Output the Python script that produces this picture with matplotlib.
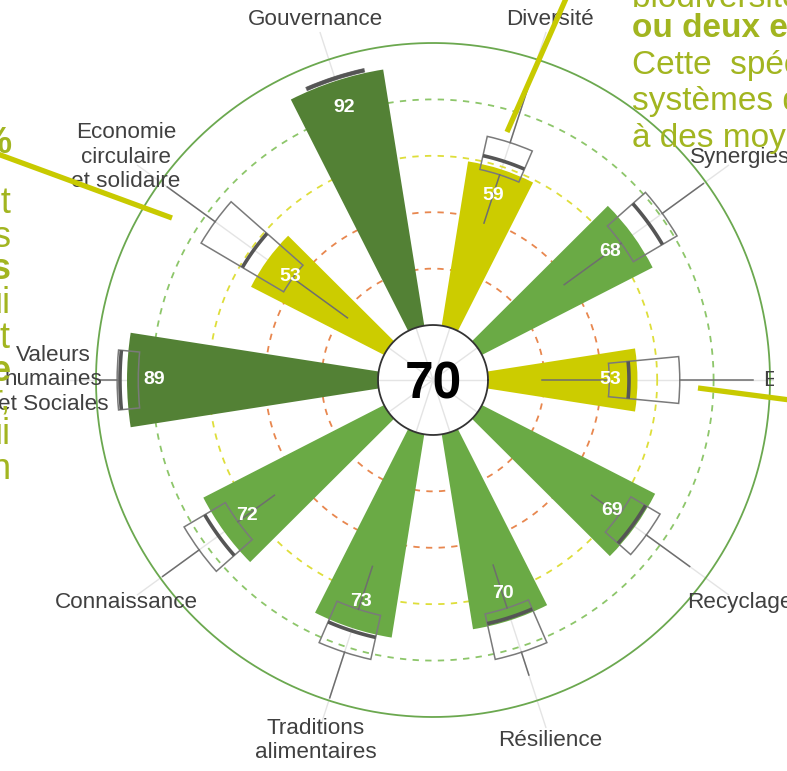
import numpy as np
import matplotlib
matplotlib.use("Agg")
import matplotlib.pyplot as plt
from matplotlib import font_manager
from matplotlib.lines import Line2D
from matplotlib.patches import Rectangle

# ---------------- data ----------------
categories = ["Efficience", "Synergies", "Diversité", "Gouvernance",
              "Economie\ncirculaire\net solidaire", "Valeurs\nhumaines\net Sociales",
              "Connaissance", "Traditions\nalimentaires", "Résilience", "Recyclage"]
scores = [53, 68, 59, 92, 53, 89, 72, 73, 70, 69]
whisker_low = [19, 38, 39, 92.5, 18, 85, 50, 50, 49.5, 50]
box_q1 = [43, 63, 57, 92.5, 42, 85, 66, 66, 65.5, 62]
box_median = [50, 75, 62, 93, 59, 91.5, 74.5, 74, 69, 68]
box_q3 = [68, 81, 69, 93.5, 76, 92.5, 83, 82, 82, 74]
whisker_high = [94, 99, 97, 93.5, 97, 99, 99, 99, 90.5, 93]
overall_score = 70
ring_levels = [20, 40, 60, 80]
ring_colors = ["#E8874F", "#E8874F", "#DEDE3A", "#8DC66A"]

# overlay text of the surrounding document
doc_right_lines = ["biodiversité des", "ou deux espèces", "Cette  spécificité",
                   "systèmes de", "à des moyens"]
doc_right_bold = [False, True, False, False, False]
doc_left_lines = ["%", "it", "s", "s", "ui", "et", "e", "r,", "ui", "n"]
doc_left_bold = [True, False, False, True, False, False, True, False, False, False]

# ---------------- style ----------------
W, H = 787, 771
names = {f.name for f in font_manager.fontManager.ttflist}
narrow = "Liberation Sans Narrow" if "Liberation Sans Narrow" in names else "Liberation Sans"
plt.rcParams["font.family"] = ["Liberation Sans", "DejaVu Sans"]

DARK, MID, YEL = "#538135", "#6AAA45", "#CCCC00"
def bar_color(v):
    return DARK if v >= 80 else (MID if v >= 60 else YEL)

fig = plt.figure(figsize=(W / 100, H / 100), dpi=100)
cx, cy, R = 433, 380, 337
ax = fig.add_axes([(cx - R) / W, (H - cy - R) / H, 2 * R / W, 2 * R / H], projection="polar")
ax.set_theta_zero_location("E")
ax.set_ylim(-19.5, 100)
ax.set_axis_off()

n = len(categories)
theta = np.arange(n) * 2 * np.pi / n
full = np.linspace(0, 2 * np.pi, 500)

# spokes
for t in theta:
    ax.plot([t, t], [-19.5, 110], color="#E4E4E4", lw=1.0, zorder=1, clip_on=False)

# reference rings
for lvl, c in zip(ring_levels, ring_colors):
    ax.plot(full, np.full_like(full, lvl), color=c, lw=1.3, ls=(0, (3.5, 3.5)), zorder=2)
ax.plot(full, np.full_like(full, 100), color="#6BA84F", lw=1.3, zorder=2, clip_on=False)

# bars
ax.bar(theta, scores, width=0.31, bottom=0, color=[bar_color(v) for v in scores],
       zorder=3, linewidth=0)

# boxplots
q1 = np.array(box_q1); q3 = np.array(box_q3)
ax.bar(theta, q3 - q1, bottom=q1, width=0.19, fill=False, edgecolor="#7A7A7A",
       linewidth=1.1, zorder=5)
for i, t in enumerate(theta):
    ax.plot([t, t], [whisker_low[i], box_q1[i]], color="#6E6E6E", lw=1.1, zorder=5)
    ax.plot([t, t], [box_q3[i], whisker_high[i]], color="#6E6E6E", lw=1.1, zorder=5)
    th = np.linspace(t - 0.095, t + 0.095, 20)
    ax.plot(th, np.full_like(th, box_median[i]), color="#555555", lw=2.6, zorder=6,
            solid_capstyle="butt")

# value labels
for t, v in zip(theta, scores):
    ax.text(t, v - 9.8, f"{v}", ha="center", va="center", color="white",
            fontsize=14, fontweight="bold", zorder=7)

# category labels
for t, c in zip(theta, categories):
    ax.text(t, 115, c, ha="center", va="center", color="#404040", fontsize=16.2,
            linespacing=1.2, zorder=7, clip_on=False)

# center disk
ax.plot(full, np.zeros_like(full), color="#333333", lw=1.3, zorder=8)
ax.text(-np.pi / 2, -13.1, f"{overall_score}", ha="center", va="baseline",
        fontsize=37, fontweight="bold", color="black", zorder=9)

# ---------------- document overlay ----------------
def px(x, y):
    return x / W, 1 - y / H

# white text box of the document hiding the rest of the right-hand label
mx0, my0 = px(774, 392)
fig.add_artist(Rectangle((mx0, my0), 20 / W, 30 / H, transform=fig.transFigure,
                         facecolor="white", edgecolor="none", zorder=1))

OLIVE = "#A2B520"
CALLOUT = "#C8CA00"
right_baselines = [7, 37, 74, 110, 147]
for s, b, yb in zip(doc_right_lines, doc_right_bold, right_baselines):
    fig.text(*px(632, yb), s, ha="left", va="baseline", fontsize=24, color=OLIVE,
             fontweight="bold" if b else "normal", family=[narrow, "DejaVu Sans"])
left_baselines = [153, 213, 247, 279, 313, 348, 381, 409, 444, 479]
for s, b, yb in zip(doc_left_lines, doc_left_bold, left_baselines):
    fig.text(*px(11, yb), s, ha="right", va="baseline", fontsize=26, color=OLIVE,
             fontweight="bold" if b else "normal", family=[narrow, "DejaVu Sans"])

for (x0, y0), (x1, y1) in [((-5, 153), (172, 218)), ((507, 132), (568, -6)),
                           ((698, 388), (790, 400))]:
    a0 = px(x0, y0); a1 = px(x1, y1)
    fig.add_artist(Line2D([a0[0], a1[0]], [a0[1], a1[1]], transform=fig.transFigure,
                          color=CALLOUT, lw=3.8, solid_capstyle="butt", zorder=2))

fig.savefig("out.png", dpi=100)
